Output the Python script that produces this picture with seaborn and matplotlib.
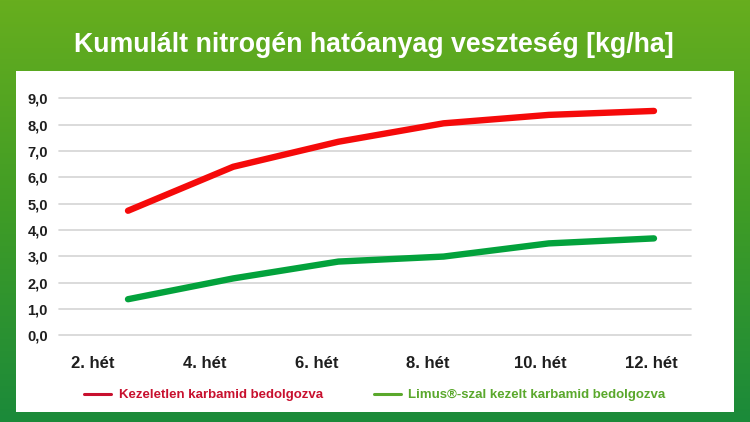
import numpy as np
import pandas as pd
import matplotlib
matplotlib.use("Agg")
import matplotlib.pyplot as plt
from matplotlib.lines import Line2D
from matplotlib.patches import Rectangle
from matplotlib.colors import LinearSegmentedColormap
import seaborn as sns

# ---- data ----
weeks = ["2. hét", "4. hét", "6. hét", "8. hét", "10. hét", "12. hét"]
untreated = [4.73, 6.40, 7.35, 8.05, 8.37, 8.52]
limus = [1.37, 2.16, 2.80, 2.99, 3.49, 3.68]
series_names = ["Kezeletlen karbamid bedolgozva", "Limus®-szal kezelt karbamid bedolgozva"]
yticks = [0, 1, 2, 3, 4, 5, 6, 7, 8, 9]
title = "Kumulált nitrogén hatóanyag veszteség [kg/ha]"

df = pd.DataFrame({
    "idx": list(range(len(weeks))) * 2,
    "value": untreated + limus,
    "series": [series_names[0]] * len(weeks) + [series_names[1]] * len(weeks),
})

sns.set_theme(style="white")
plt.rcParams["font.family"] = ["Liberation Sans", "DejaVu Sans"]

W, H = 750, 422
fig = plt.figure(figsize=(7.5, 4.22), dpi=100)

# gradient background
bg = fig.add_axes([0, 0, 1, 1], zorder=-10)
cmap = LinearSegmentedColormap.from_list("g", ["#67ae1e", "#3f9c26", "#1b8a3a"])
grad = np.linspace(0, 1, 256).reshape(-1, 1)
bg.imshow(grad, cmap=cmap, aspect="auto", extent=[0, 1, 0, 1], origin="upper")
bg.set_axis_off()
bg.add_patch(Rectangle((16 / W, 1 - 412 / H), 718 / W, 341 / H,
                       transform=bg.transAxes, facecolor="white", edgecolor="none"))

# title
fig.text(374 / W, 1 - 45 / H, title, ha="center", va="center", color="white",
         fontsize=19.3, fontweight="bold")

# main axes
left, right = 59 / W, 691 / W
bottom, top = 1 - 335.3 / H, 1 - 98.3 / H
ax = fig.add_axes([left, bottom, right - left, top - bottom])
ax.set_facecolor("none")

palette = {series_names[0]: "#f50a0a", series_names[1]: "#03a23c"}
sns.lineplot(data=df, x="idx", y="value", hue="series", palette=palette,
             linewidth=4.6, legend=False, ax=ax,
             solid_capstyle="round", solid_joinstyle="round", clip_on=False, zorder=3)

ax.set_xlim(-0.656, 5.352)
ax.set_ylim(0, 9)
ax.set_yticks(yticks)
ax.set_yticklabels([f"{v:.1f}".replace(".", ",") for v in yticks],
                   fontsize=10.5, fontweight="bold", color="#1e1e1e")
tickpos = np.arange(len(weeks)) * 1.062 - 0.333
ax.set_xticks(tickpos)
ax.set_xticklabels(weeks, fontsize=12, fontweight="bold", color="#1e1e1e")
ax.tick_params(axis="y", length=0, pad=8)
ax.tick_params(axis="x", length=0, pad=15)
ax.grid(axis="y", color="#d4d4d4", linewidth=1.2)
ax.grid(axis="x", visible=False)
for gl in ax.get_ygridlines():
    gl.set_clip_on(False)
ax.set_xlabel("")
ax.set_ylabel("")
for s in ax.spines.values():
    s.set_visible(False)

handles = [Line2D([], [], color="#c8102e", linewidth=2.2),
           Line2D([], [], color="#5aa82c", linewidth=2.2)]
fig.legend(handles, series_names, loc="center", bbox_to_anchor=(375 / W, 1 - 395 / H),
           ncol=2, frameon=False, prop={"weight": "bold", "size": 9.5},
           labelcolor=["#c8102e", "#5aa82c"], handlelength=2.05,
           handletextpad=0.6, columnspacing=3.8)

fig.savefig("out.png", dpi=100)
